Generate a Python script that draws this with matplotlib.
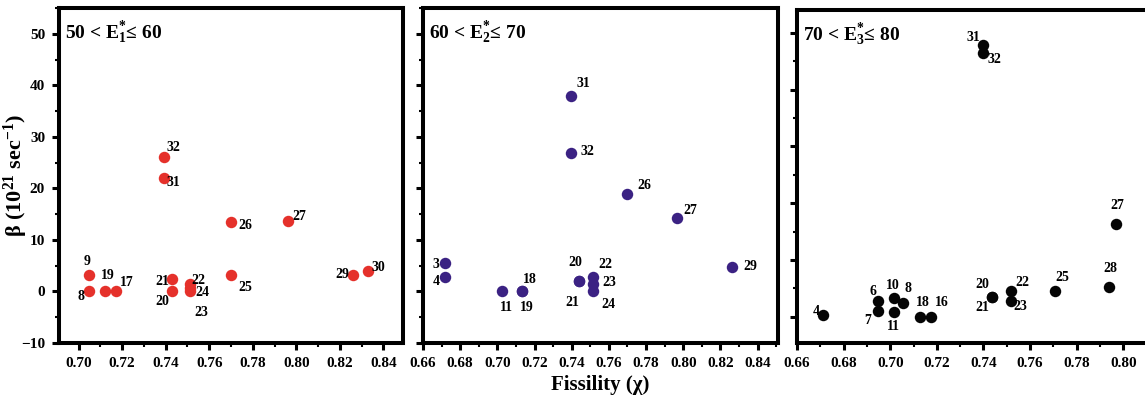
import matplotlib
matplotlib.use('Agg')
import matplotlib.pyplot as plt
from matplotlib.ticker import MultipleLocator, NullFormatter

plt.rcParams['font.family'] = ['Liberation Serif', 'DejaVu Serif']
plt.rcParams['font.weight'] = 'bold'
plt.rcParams['mathtext.fontset'] = 'custom'
plt.rcParams['mathtext.rm'] = 'Liberation Serif:bold'
plt.rcParams['mathtext.it'] = 'Liberation Serif:bold'
plt.rcParams['mathtext.bf'] = 'Liberation Serif:bold'

# panel 1: 50 < E1* <= 60
ids1 = ['9', '8', '19', '17', '21', '20', '22', '24', '23', '32', '31', '26', '25', '27', '29', '30']
chi1 = [0.705, 0.705, 0.712, 0.717, 0.743, 0.743, 0.751, 0.751, 0.751, 0.739, 0.739,
        0.770, 0.770, 0.796, 0.826, 0.833]
beta1 = [3.1, 0.0, 0.0, 0.0, 2.5, 0.0, 1.5, 0.7, 0.0, 26.0, 22.0, 13.4, 3.1, 13.7, 3.1, 4.0]

# panel 2: 60 < E2* <= 70
ids2 = ['31', '32', '26', '27', '29', '3', '4', '11', '18', '19', '20', '21', '22', '23', '24']
chi2 = [0.7396, 0.7396, 0.770, 0.7966, 0.826, 0.672, 0.672, 0.7025, 0.713, 0.713,
        0.744, 0.744, 0.7514, 0.7514, 0.7514]
beta2 = [37.9, 26.9, 19.0, 14.2, 4.8, 5.6, 2.9, 0.0, 0.0, 0.0, 2.0, 2.0, 2.8, 1.5, 0.0]

# panel 3: 70 < E3* <= 80
ids3 = ['31', '32', '27', '28', '25', '22', '23', '20', '21', '18', '16', '8', '10', '11', '6', '7', '4']
chi3 = [0.7398, 0.7398, 0.797, 0.794, 0.7707, 0.7518, 0.7518, 0.7437, 0.7437, 0.7128,
        0.7175, 0.7055, 0.7016, 0.7016, 0.6948, 0.6948, 0.6712]
beta3 = [47.9, 46.5, 16.4, 5.3, 4.6, 4.6, 2.8, 3.5, 3.5, 0.0, 0.0, 2.4, 3.3, 0.8, 2.8, 1.1, 0.4]

titles = [r'50 < E$^{*}_{1}$≤ 60', r'60 < E$^{*}_{2}$≤ 70', r'70 < E$^{*}_{3}$≤ 80']
colors = ['#e5312b', '#3b2283', '#050505']

# label offsets in pixels (dx, dy)
off1 = {'9': (-2, 14), '8': (-8, -5), '19': (3, 16), '17': (11, 9), '21': (-10, -3),
        '20': (-10, -10), '22': (9, 3), '24': (13, -5), '23': (12, -21), '32': (10, 10),
        '31': (10, -4), '26': (14, -3), '25': (14, -12), '27': (12, 4), '29': (-11, 1),
        '30': (10, 3)}
off2 = {'31': (12, 13), '32': (16, 1), '26': (17, 8), '27': (13, 8), '29': (19, 0),
        '3': (-9, -2), '4': (-9, -5), '11': (4, -16), '18': (8, 12), '19': (5, -16),
        '20': (-4, 19), '21': (-7, -21), '22': (12, 13), '23': (16, 1), '24': (15, -13)}
off3 = {'31': (-10, 7), '32': (12, -7), '27': (1, 18), '28': (1, 18), '25': (7, 13),
        '22': (11, 8), '23': (9, -6), '20': (-10, 12), '21': (-10, -11), '18': (3, 14),
        '16': (11, 14), '8': (5, 15), '10': (-1, 13), '11': (0, -14), '6': (-5, 9),
        '7': (-10, -10), '4': (-7, 3)}

W, H = 1145, 408
fig = plt.figure(figsize=(W / 100, H / 100), dpi=100)

boxes = [(59, 403, 8, 343), (423, 778, 8, 343), (797, 1150, 10, 343)]
xlims = [(0.691, 0.849), (0.66, 0.851), (0.66, 0.8115)]
ylims = [(-10, 55), (-10, 55), (-4.6, 54.0)]
data = [(ids1, chi1, beta1, off1), (ids2, chi2, beta2, off2), (ids3, chi3, beta3, off3)]

for i in range(3):
    l, r, t, b = boxes[i]
    ax = fig.add_axes([l / W, (H - b) / H, (r - l) / W, (b - t) / H])
    ids, xs, ys, off = data[i]
    ax.scatter(xs, ys, s=68, color=colors[i], zorder=3, linewidths=0)
    for lab, x, y in zip(ids, xs, ys):
        ax.annotate(lab, (x, y), xytext=off[lab], textcoords='offset pixels',
                    ha='center', va='center', fontsize=10, fontweight='bold')
    ax.text(6 / (r - l), 1 - 25 / (b - t), titles[i], transform=ax.transAxes, fontsize=14,
            fontweight='bold', ha='left', va='center')
    ax.set_xlim(*xlims[i])
    ax.set_ylim(*ylims[i])
    ax.xaxis.set_major_locator(MultipleLocator(0.02))
    ax.xaxis.set_minor_locator(MultipleLocator(0.01))
    ax.xaxis.set_major_formatter(plt.FuncFormatter(lambda v, p: f'{v:.2f}'))
    ax.yaxis.set_major_locator(MultipleLocator(10))
    ax.yaxis.set_minor_locator(MultipleLocator(5))
    if i > 0:
        ax.yaxis.set_major_formatter(NullFormatter())
    for sp in ax.spines.values():
        sp.set_linewidth(2.9)
    ax.tick_params(which='major', direction='out', length=5, width=2.2,
                   labelsize=11, pad=5, top=False, right=False)
    ax.tick_params(which='minor', direction='out', length=3, width=1.5,
                   top=False, right=False)
    for lb in ax.get_xticklabels() + ax.get_yticklabels():
        lb.set_fontweight('bold')
    if i == 0:
        ax.set_ylabel(r'β (10$^{21}$ sec$^{-1}$)', fontsize=16, fontweight='bold')
        ax.yaxis.set_label_coords(-29 / (r - l), 0.5)
    if i == 1:
        ax.set_xlabel('Fissility (χ)', fontsize=15, fontweight='bold', labelpad=4)

fig.savefig('out.png', dpi=100)
